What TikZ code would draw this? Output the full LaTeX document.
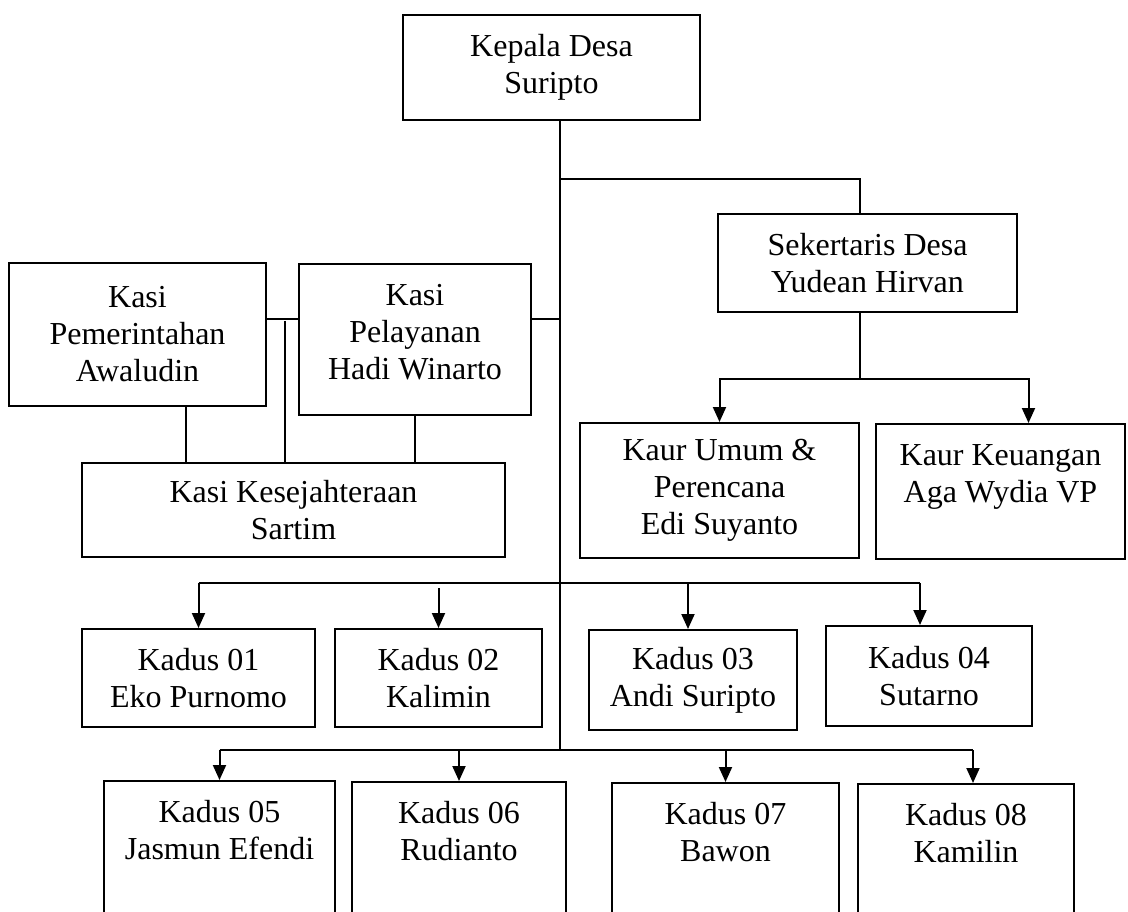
\documentclass[tikz,border=0pt]{standalone}
\usepackage{fontspec}
\setmainfont{Liberation Serif}
\usetikzlibrary{arrows.meta, positioning, calc}

\begin{document}
\begin{tikzpicture}[
        x=1pt, y=-1pt,
        font=\fontsize{32}{37}\selectfont,
        >={Triangle[length=15pt, width=13pt]},
        box/.style={draw, line width=2pt, align=center, inner sep=0pt},
        topbox/.style 2 args={box, anchor=north, text height=#1, text depth=#2},
        line/.style={line width=2pt},
        arr/.style={line, ->}
    ]
        \useasboundingbox (0,0) rectangle (1128,912);
        %=================== Kepala Desa dan Sekertaris ===================
        \node[box, minimum width=297pt, minimum height=105pt] (kepala) at (551.5,67.5) {Kepala Desa\\Suripto};
        \node[box, minimum width=299pt, minimum height=98pt] (sekdes) at (867.5,263) {Sekertaris Desa\\Yudean Hirvan};
        \node[box, minimum width=279pt, minimum height=135pt] (kaurumum) at (719.5,490.5) {Kaur Umum \&\\Perencana\\Edi Suyanto};
        \node[topbox={78pt}{57pt}, minimum width=249pt] (kaurkeu) at (1000.5,423) {Kaur Keuangan\\Aga Wydia VP};

        %=================== Kasi ===================
        \node[box, minimum width=257pt, minimum height=143pt] (pemerintahan) at (137.5,334.5) {Kasi\\Pemerintahan\\Awaludin};
        \node[topbox={115pt}{36pt}, minimum width=232pt] (pelayanan) at (415,263) {Kasi\\Pelayanan\\Hadi Winarto};
        \node[box, minimum width=423pt, minimum height=94pt] (kesejahteraan) at (293.5,510) {Kasi Kesejahteraan\\Sartim};

        %=================== Kadus ===================
        \node[box, minimum width=233pt, minimum height=98pt] (k01) at (198.5,678) {Kadus 01\\Eko Purnomo};
        \node[box, minimum width=207pt, minimum height=98pt] (k02) at (438.5,678) {Kadus 02\\Kalimin};
        \node[box, minimum width=208pt, minimum height=100pt] (k03) at (693,680) {Kadus 03\\Andi Suripto};
        \node[box, minimum width=206pt, minimum height=100pt] (k04) at (929,676) {Kadus 04\\Sutarno};
        \node[topbox={78pt}{57pt}, minimum width=231pt] (k05) at (219.5,780) {Kadus 05\\Jasmun Efendi};
        \node[topbox={78pt}{57pt}, minimum width=214pt] (k06) at (459,781) {Kadus 06\\Rudianto};
        \node[topbox={78pt}{57pt}, minimum width=227pt] (k07) at (725.5,782) {Kadus 07\\Bawon};
        \node[topbox={78pt}{57pt}, minimum width=216pt] (k08) at (966,783) {Kadus 08\\Kamilin};

        % titik cabang
        \coordinate (sp) at (560,179);
        \coordinate (spL) at (560,319);
        \coordinate (bus1) at (560,583);
        \coordinate (bus2) at (560,750);
        \coordinate (sj) at (860,379);
        \coordinate (kj) at (285,321);
        \coordinate (pj) at ([xshift=48pt]pemerintahan.south);
        \coordinate (a03) at ([xshift=-5pt]k03.north);
        \coordinate (a04) at ([xshift=-9pt]k04.north);
        \coordinate (a08) at ([xshift=7pt]k08.north);
        \coordinate (g02) at ($(k02.north |- bus1)+(0,5)$);

        %=================== garis ===================
        \draw[line] (kepala.south -| sp) -- (bus2);
        \draw[line] (sp) -| ([xshift=-8pt]sekdes.north);
        \draw[line] (sekdes.south -| sj) -- (sj);
        \draw[arr] (sj) -| (kaurumum.north);
        \draw[arr] (sj) -| ([xshift=28pt]kaurkeu.north);

        \draw[line] (pemerintahan.east |- spL) -- (pelayanan.west |- spL);
        \draw[line] (pelayanan.east |- spL) -- (spL);
        \draw[line] (kj) -- (kj |- kesejahteraan.north);
        \draw[line] (pj) -- (pj |- kesejahteraan.north);
        \draw[line] (pelayanan.south) -- (pelayanan.south |- kesejahteraan.north);

        % Kadus 01--04
        \draw[line] (k01.north |- bus1) -- (a04 |- bus1);
        \draw[arr] (k01.north |- bus1) -- (k01.north);
        \draw[arr] (g02) -- (k02.north);
        \draw[arr] (a03 |- bus1) -- (a03);
        \draw[arr] (a04 |- bus1) -- (a04);
        % Kadus 05--08
        \draw[line] (k05.north |- bus2) -- (a08 |- bus2);
        \draw[arr] (k05.north |- bus2) -- (k05.north);
        \draw[arr] (k06.north |- bus2) -- (k06.north);
        \draw[arr] (k07.north |- bus2) -- (k07.north);
        \draw[arr] (a08 |- bus2) -- (a08);
    \end{tikzpicture}
\end{document}
